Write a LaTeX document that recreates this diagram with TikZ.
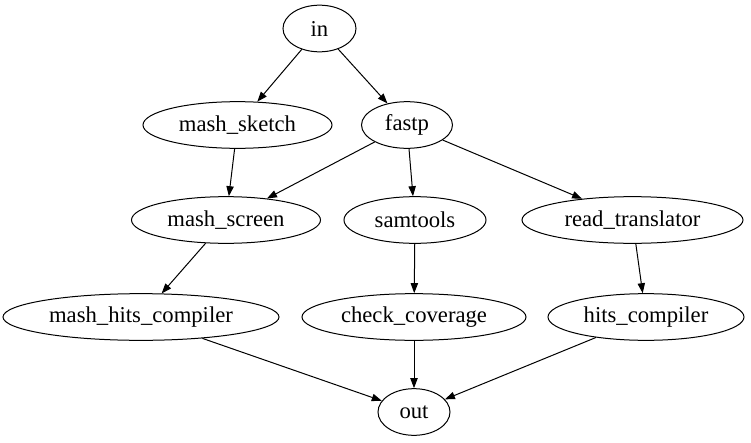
\documentclass[tikz,border=0pt]{standalone}
\usepackage{fontspec}
\setmainfont{Liberation Serif}
\usetikzlibrary{shapes.geometric, arrows.meta}

\begin{document}
\begin{tikzpicture}[x=0.75pt, y=-0.75pt,
		proc/.style={draw, ellipse, line width=0.75pt, inner sep=0pt, minimum height=35pt, font=\fontsize{17}{19}\selectfont},
		flow/.style={line width=0.75pt, -{Triangle[length=7.5pt, width=5.5pt]}}]
		\useasboundingbox (0, 0) rectangle (751, 443);
		% top
		\node[proc, minimum width=54.75pt] (src) at (319.5, 28.5) {in};
		\node[proc, minimum width=141.75pt] (sketch) at (237.5, 125) {mash\_sketch};
		\node[proc, minimum width=68.25pt] (fastp) at (407, 125) {fastp};
		% middle
		\node[proc, minimum width=141.75pt] (screen) at (226, 220) {mash\_screen};
		\node[proc, minimum width=106.5pt] (samtools) at (415, 220) {samtools};
		\node[proc, minimum width=165.75pt] (translator) at (632.5, 220) {read\_translator};
		\node[proc, minimum width=207pt] (mashhits) at (141, 317) {mash\_hits\_compiler};
		\node[proc, minimum width=168pt] (coverage) at (414, 317) {check\_coverage};
		\node[proc, minimum width=147pt] (hits) at (646, 317) {hits\_compiler};
		% bottom
		\node[proc, minimum width=54pt] (sink) at (414, 412) {out};
		\draw[flow] (src) -- (sketch);
		\draw[flow] (src) -- (fastp);
		\draw[flow] (sketch) -- (screen);
		\draw[flow] (fastp) -- (screen);
		\draw[flow] (fastp) -- (samtools);
		\draw[flow] (fastp) -- (translator);
		\draw[flow] (screen) -- (mashhits);
		\draw[flow] (samtools) -- (coverage);
		\draw[flow] (translator) -- (hits);
		\draw[flow] (mashhits) -- (sink);
		\draw[flow] (coverage) -- (sink);
		\draw[flow] (hits) -- (sink);
	\end{tikzpicture}
\end{document}
